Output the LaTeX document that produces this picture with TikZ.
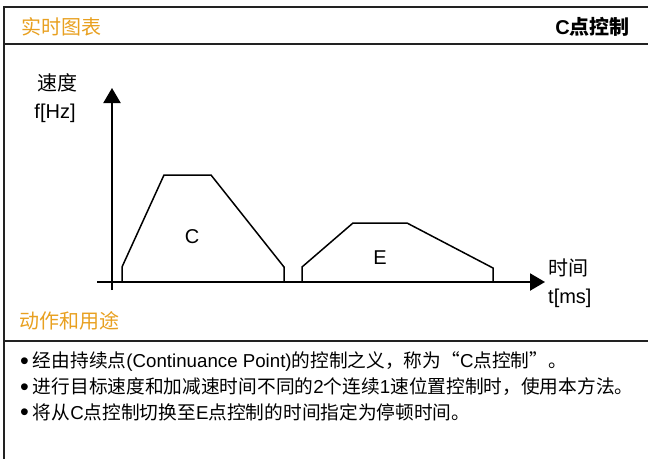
\documentclass[tikz,border=0pt]{standalone}
\usepackage{fontspec}
\usepackage{xcolor}
\usetikzlibrary{arrows.meta,positioning}
\setmainfont{Liberation Sans}
\newfontfamily\zh{Noto Sans CJK SC}
\definecolor{headorange}{RGB}{232,160,32}
\definecolor{framegray}{RGB}{34,34,34}
\newcommand{\dotmark}{\raisebox{-1.5pt}{\fontsize{25}{20}\selectfont\textbullet}\hspace{4pt}}
\tikzset{
    frame-line/.style = {draw=framegray, line width=2pt},
    head-text/.style = {text=headorange, font=\fontsize{20}{22}\selectfont\zh, inner sep=0pt, anchor=west},
    axis/.style = {draw=black, line width=2.2pt, -{Triangle[length=15pt,width=17pt]}},
    profile/.style = {draw=black, line width=1.5pt, line join=miter},
    axis-label/.style = {font=\fontsize{20}{22}\selectfont, inner sep=0pt},
    bullet-line/.style = {font=\fontsize{18.7}{21}\selectfont, inner sep=0pt, anchor=west},
}

\begin{document}
\begin{tikzpicture}[x=1pt,y=-1pt]
\useasboundingbox (0,0) rectangle (648,459);
% frame of the panel
\draw[frame-line] (648,7) -- (4,7) -- (4,459);
\draw[frame-line] (4,44) -- (648,44);
\draw[frame-line] (4,341) -- (648,341);
% header
\node[head-text] (title) at (21,27) {实时图表};
\node[inner sep=0pt, anchor=east, font=\fontsize{20}{22}\selectfont\bfseries] (mode) at (630,27) {C{\zh\bfseries 点控制}};
% axes
\coordinate (origin) at (112,282);
\coordinate (ytop) at (112,88);
\coordinate (ybot) at (112,290);
\coordinate (xleft) at (97,282);
\coordinate (xright) at (545,282);
\draw[axis] (ybot) -- (ytop);
\draw[axis] (xleft) -- (xright);
\node[axis-label] (speed) at (57,83) {\zh 速度};
\node[axis-label] (freq) at (55,113) {f[Hz]};
\node[axis-label, anchor=west] (time) at (548,268) {\zh 时间};
\node[axis-label, below=11pt of time.south west, anchor=north west] (ms) {t[ms]};
% the two positioning profiles
\draw[profile] (122,282) -- (122,267) -- (164,175) -- (211,175) -- (284,267) -- (284,282);
\draw[profile] (302,282) -- (302,267) -- (353,223) -- (407,223) -- (493,268) -- (493,282);
\node[axis-label] (c) at (192,237) {C};
\node[axis-label] (e) at (380,258) {E};
% operation and use
\node[head-text] (use) at (19,321) {动作和用途};
\node[bullet-line] (b1) at (20,362) {\dotmark{\zh 经由持续点}(Continuance Point){\zh 的控制之义，称为“}C{\zh 点控制”。}};
\node[bullet-line] (b2) at (20,387) {\dotmark{\zh 进行目标速度和加减速时间不同的}2{\zh 个连续}1{\zh 速位置控制时，使用本方法。}};
\node[bullet-line] (b3) at (20,412) {\dotmark{\zh 将从}C{\zh 点控制切换至}E{\zh 点控制的时间指定为停顿时间。}};
\end{tikzpicture}
\end{document}
